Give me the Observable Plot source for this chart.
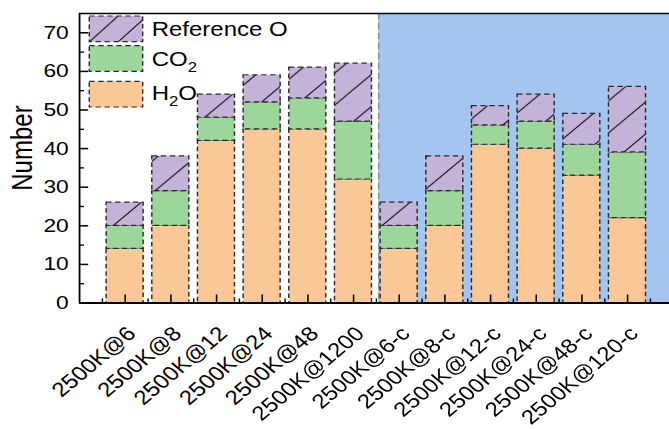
<!DOCTYPE html>
<html>
<head>
<meta charset="utf-8">
<script src="https://cdn.jsdelivr.net/npm/d3@7"></script>
<script src="https://cdn.jsdelivr.net/npm/@observablehq/plot@0.6"></script>
<style>
  html, body { margin: 0; padding: 0; background: white; overflow: hidden; }
  #wrap { width: 557.5px; height: 429px; transform: scaleX(1.2); transform-origin: 0 0; }
</style>
</head>
<body>
<div id="wrap"></div>
<script>
// ---- data ----
const categories = ["2500K@6", "2500K@8", "2500K@12", "2500K@24", "2500K@48", "2500K@1200",
  "2500K@6-c", "2500K@8-c", "2500K@12-c", "2500K@24-c", "2500K@48-c", "2500K@120-c"];
const seriesNames = ["H2O", "CO2", "Reference O"];
const h2o  = [14, 20, 42, 45, 45, 32, 14, 20, 41, 40, 33, 22];
const co2  = [ 6,  9,  6,  7,  8, 15,  6,  9,  5,  7,  8, 17];
const refO = [ 6,  9,  6,  7,  8, 15,  6,  9,  5,  7,  8, 17];
const yMajor = [0, 10, 20, 30, 40, 50, 60, 70];
const yMinor = [5, 15, 25, 35, 45, 55, 65];
const highlightStart = 6.55; // start of the "-c" group background

// ---- styles ----
const W = 557.5, H = 429, ML = 65.8, MR = 0, MT = 13, MB = 126.5;
const frameW = W - ML - MR, frameH = H - MT - MB;
const colOrange = "#f9c896", colGreen = "#9dd69b", colPurple = "#c4b3d9", colBlue = "#a3c5ef";
const dash = "4.5,3", edge = "#2b2b2b";
const xMax = 12.92;
const FONT = "'Liberation Sans', Arial, sans-serif";

const series = [h2o, co2, refO];
const rows = [];
categories.forEach((c, i) => {
  series.forEach((s, k) => rows.push({pos: i + 1, category: c, species: seriesNames[k], value: s[i]}));
});
const xMajor = categories.map((c, i) => i + 1);
const xMinor = [0, ...xMajor].map(p => p + 0.5);

const NS = "http://www.w3.org/2000/svg";
function el(tag, attrs = {}, parent) {
  const e = document.createElementNS(NS, tag);
  for (const [k, v] of Object.entries(attrs)) e.setAttribute(k, v);
  if (parent) parent.appendChild(e);
  return e;
}

function defsMark() {
  const g = el("g");
  const defs = el("defs", {}, g);
  const P = 32;
  const pat = el("pattern", {id: "hatch", patternUnits: "userSpaceOnUse", width: P, height: P}, defs);
  el("rect", {width: P, height: P, fill: colPurple}, pat);
  el("path", {d: `M-6,6 L6,-6 M0,${P} L${P},0 M${P - 6},${P + 6} L${P + 6},${P - 6}`, stroke: "#111", "stroke-width": 1}, pat);
  const pat2 = el("pattern", {id: "hatchL", patternUnits: "userSpaceOnUse", width: 24, height: 26, x: 74.4, y: 16}, defs);
  el("rect", {width: 24, height: 26, fill: colPurple}, pat2);
  el("path", {d: "M0,26 L24,0", stroke: "#111", "stroke-width": 1}, pat2);
  return g;
}

function legendMark() {
  const g = el("g", {"font-family": FONT, "font-size": 20, fill: "black", "text-anchor": "start"});
  const items = [
    {fill: "url(#hatchL)", y: 16, h: 25.7, base: 36, parts: [["Reference O"]]},
    {fill: colGreen, y: 45.7, h: 25.6, base: 66, parts: [["CO"], ["2", 1]]},
    {fill: colOrange, y: 81.3, h: 25.7, base: 100, parts: [["H"], ["2", 1], ["O", -1]]}
  ];
  for (const it of items) {
    el("rect", {x: 74.4, y: it.y, width: 44.5, height: it.h, fill: it.fill, stroke: edge, "stroke-width": 1.2, "stroke-dasharray": dash}, g);
    const t = el("text", {x: 126.4, y: it.base}, g);
    for (const [s, sub] of it.parts) {
      const ts = el("tspan", {}, t);
      if (sub === 1) { ts.setAttribute("font-size", 14); ts.setAttribute("dy", 6); }
      if (sub === -1) { ts.setAttribute("dy", -6); }
      ts.textContent = s;
    }
  }
  return g;
}

const chart = Plot.plot({
  width: W, height: H,
  marginLeft: ML, marginRight: MR, marginTop: MT, marginBottom: MB,
  x: {type: "linear", domain: [0, xMax], axis: null},
  y: {type: "linear", domain: [0, 75], axis: null},
  color: {type: "ordinal", domain: seriesNames, range: [colOrange, colGreen, "url(#hatch)"]},
  style: {fontFamily: FONT, background: "white", overflow: "visible"},
  marks: [
    defsMark,
    Plot.rect([highlightStart], {x1: d => d, x2: () => xMax, fill: colBlue}),
    Plot.ruleX([highlightStart], {stroke: "#8c8c8c", strokeWidth: 1.2, strokeDasharray: "6,4"}),
    Plot.rectY(rows, {
      x1: d => d.pos - 0.5, x2: d => d.pos + 0.5, y: "value", fill: "species",
      insetLeft: 3.6, insetRight: 3.6,
      stroke: edge, strokeWidth: 1.2, strokeDasharray: dash
    }),
    // frame
    Plot.ruleY([75], {stroke: "black", strokeWidth: 1.5}),
    Plot.ruleY([0], {stroke: "black", strokeWidth: 2}),
    Plot.ruleX([0], {stroke: "black", strokeWidth: 1.5}),
    // inward ticks
    Plot.tickY(yMajor, {y: d => d, insetRight: frameW - 7.7, stroke: "black", strokeWidth: 1.5}),
    Plot.tickY(yMinor, {y: d => d, insetRight: frameW - 4.2, stroke: "black", strokeWidth: 1.3}),
    Plot.tickX(xMajor, {x: d => d, insetTop: frameH - 8, stroke: "black", strokeWidth: 1.3}),
    Plot.tickX(xMinor, {x: d => d, insetTop: frameH - 4, stroke: "black", strokeWidth: 1.2}),
    // tick labels
    Plot.text(yMajor, {y: d => d, text: d => String(d), frameAnchor: "left", textAnchor: "end", lineAnchor: "middle", dx: -9, fontSize: 19, fill: "black"}),
    Plot.text(xMajor, {x: d => d, text: d => categories[d - 1], frameAnchor: "bottom", textAnchor: "end", lineAnchor: "bottom", rotate: -45, dx: 10, dy: 32, fontSize: 20, fill: "black"}),
    // axis title
    Plot.text(["Number"], {text: d => d, frameAnchor: "left", textAnchor: "middle", rotate: -90, lineAnchor: "bottom", dx: -39.4, dy: -10.2, fontSize: 24, fill: "black"}),
    legendMark
  ]
});
document.getElementById("wrap").appendChild(chart);
</script>
</body>
</html>
